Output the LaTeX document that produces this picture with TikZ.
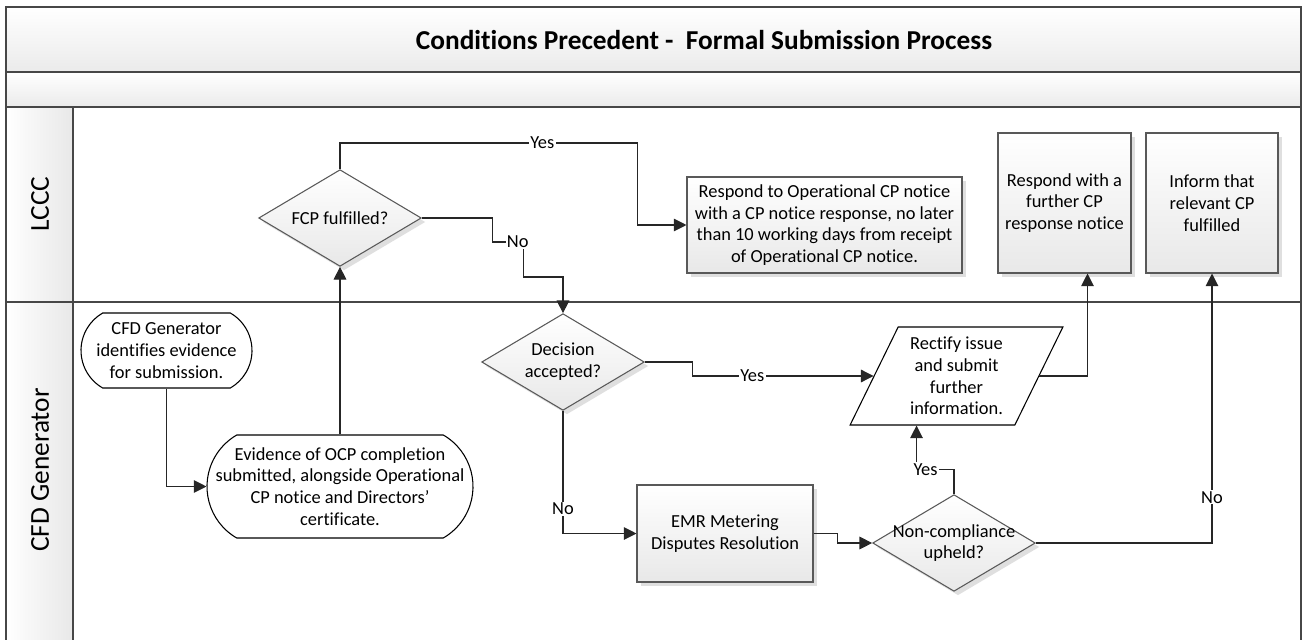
\documentclass[tikz,border=0pt]{standalone}
\usepackage{fontspec}
\setmainfont{Carlito}[Ligatures=NoCommon]
\usetikzlibrary{arrows.meta,shapes.geometric,shapes.misc,shadows,calc}

\newcommand{\bodyfont}{\fontsize{13.8}{16.3}\selectfont}
\newcommand{\bigfont}{\fontsize{20.5}{24}\selectfont}

\tikzset{
  lane/.style={draw=black!72,line width=2pt},
  link/.style={draw=black!85,line width=0.8pt},
  flow/.style={link,-{Triangle[length=9.5pt,width=9.5pt]}},
  lbl/.style={fill=white,inner sep=1pt,font=\bodyfont},
  shapetext/.style={align=center,font=\bodyfont},
  softshadow/.style={drop shadow={shadow xshift=3pt,shadow yshift=-3pt,fill=black!25,opacity=.5}},
  procbox/.style={rectangle,draw=black!65,line width=0.8pt,top color=white,bottom color=black!9,
    softshadow,align=center,font=\bodyfont,inner sep=3pt},
  decision/.style={diamond,draw=black!65,line width=0.8pt,top color=white,bottom color=black!9,
    softshadow,minimum width=122pt,minimum height=72.5pt,inner sep=0pt},
  terminal/.style={rounded rectangle,rounded rectangle arc length=120,draw=black,line width=0.8pt,
    fill=white,inner sep=0pt},
  inout/.style={trapezium,trapezium left angle=64,trapezium right angle=116,trapezium stretches=true,
    draw=black,line width=0.8pt,fill=white,inner sep=1pt,minimum width=159.75pt,minimum height=73.5pt,
    align=center,font=\bodyfont},
}

\begin{document}
\begin{tikzpicture}[x=0.75pt,y=-0.75pt]
  \useasboundingbox (0,0) rectangle (1306,639);
  \clip (0,0) rectangle (1306,639);
  % bands and lanes
  \shade[top color=white,bottom color=black!8] (6,7) rectangle (1301,72);
  \shade[top color=white,bottom color=black!8] (6,72) rectangle (1301,107);
  \shade[left color=white,right color=black!9] (6,107) rectangle (73,645);
  \draw[lane] (6,645) -- (6,7) -- (1301,7) -- (1301,645);
  \draw[lane] (6,72) -- (1301,72);
  \draw[lane] (6,107) -- (1301,107);
  \draw[lane] (6,302) -- (1301,302);
  \draw[lane] (73,107) -- (73,645);
  \node[font=\bigfont\bfseries] (title) at (704,40) {Conditions Precedent -\ \ Formal Submission Process};
  \node[rotate=90,font=\bigfont] (lcccLbl) at (40,204) {LCCC};
  \node[rotate=90,font=\bigfont] (cfdLbl) at (40,470) {CFD Generator};

  % LCCC lane
  \node[decision,label={[shapetext]center:FCP fulfilled?}] (fcp) at (340,218) {};
  \node[procbox,minimum width=206.25pt,minimum height=72pt] (resp) at (824.5,225)
    {Respond to Operational CP notice\\with a CP notice response, no later\\than 10 working days from receipt\\of Operational CP notice.};
  \node[procbox,minimum width=99.75pt,minimum height=105pt] (further) at (1064.5,203)
    {Respond with a\\further CP\\response notice};
  \node[procbox,minimum width=99pt,minimum height=105pt] (inform) at (1212,203)
    {Inform that\\relevant CP\\fulfilled};

  % CFD Generator lane
  \node[terminal,minimum width=128.25pt,minimum height=56.25pt,
    label={[shapetext]center:{CFD Generator\\identifies evidence\\for submission.}}] (start) at (166.5,350.5) {};
  \node[terminal,minimum width=199.5pt,minimum height=77.25pt,
    label={[shapetext]center:{Evidence of OCP completion\\submitted, alongside Operational\\CP notice and Directors'\\certificate.}}] (evid) at (340,486.5) {};
  \node[decision,label={[shapetext]center:{Decision\\accepted?}}] (dec) at (563,362) {};
  \node[procbox,minimum width=132pt,minimum height=72.75pt] (emr) at (725,533.5)
    {EMR Metering\\Disputes Resolution};
  \node[decision,label={[shapetext]center:{Non-compliance\\upheld?}}] (nc) at (954,543) {};
  \node[inout] (par) at (956.5,376) {Rectify issue\\and submit\\further\\information.};

  % connectors
  \draw[flow] (start.south) |- (evid.west);
  \draw[flow] (evid.north) -- (fcp.south);
  \draw[flow] (fcp.north) |- node[lbl,pos=.84]{Yes} ($(resp.west)+(-49,-82)$) |- (resp.west);
  \draw[flow] (fcp.east) -| ($(fcp.east)+(71,24)$) -- node[lbl,pos=.8]{No} ++(31,0) -- ++(0,35) -| (dec.north);
  \draw[flow] (dec.east) -| ($(par.west)+(-181,0)$) -- node[lbl,pos=.33]{Yes} (par.west);
  \draw[flow] (dec.south) |- node[lbl,pos=.4]{No} (emr.west);
  \draw[flow] (emr.east) -- ++(24,0) |- (nc.west);
  \draw[flow] (nc.north) |- node[lbl,pos=.88]{Yes} ($(par.south)+(-40,44)$) -- ($(par.south)+(-40,0)$);
  \draw[flow] (par.east) -| ($(further.south)+(23,0)$);
  \draw[flow] (nc.east) -| node[lbl,pos=.585]{No} (inform.south);
\end{tikzpicture}
\end{document}
